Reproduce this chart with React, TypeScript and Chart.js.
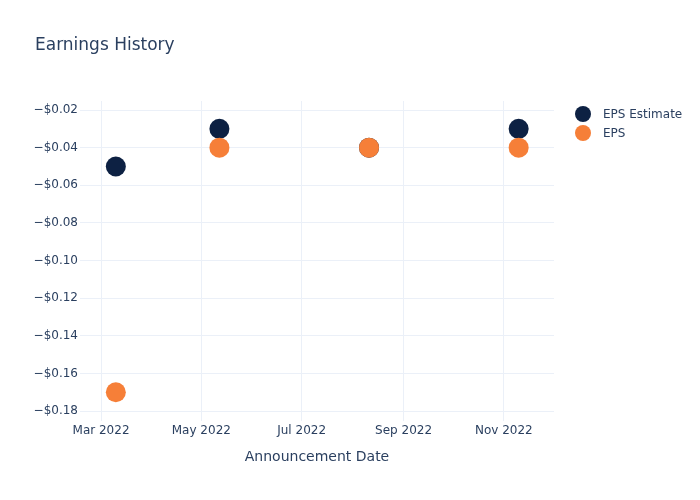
import React, { useEffect, useRef } from "react";
import { Chart, registerables } from "chart.js";

Chart.register(...registerables);

const announcementDates = ["2022-03-10", "2022-05-12", "2022-08-11", "2022-11-10"];
const epsEstimate = [-0.05, -0.03, -0.04, -0.03];
const epsActual = [-0.17, -0.04, -0.04, -0.04];
const xTickDates = ["2022-03-01", "2022-05-01", "2022-07-01", "2022-09-01", "2022-11-01"];
const xTickLabels = ["Mar 2022", "May 2022", "Jul 2022", "Sep 2022", "Nov 2022"];
const yTickValues = [-0.18, -0.16, -0.14, -0.12, -0.1, -0.08, -0.06, -0.04, -0.02];
const xRange = ["2022-02-16T05:00:00", "2022-12-01T12:00:00"];
const yRange = [-0.1853, -0.0152];

const seriesNames = ["EPS Estimate", "EPS"];
const seriesColors = ["#0d2143", "#f67f38"];

const ts = (s: string) => new Date(s + (s.length === 10 ? "T00:00:00Z" : "Z")).getTime();

const TEXT = "#2a3f5f";
const GRID = "#ebf0f8";
const FONT = "'DejaVu Sans', 'Open Sans', sans-serif";

export default function App() {
  const ref = useRef<HTMLCanvasElement>(null);

  useEffect(() => {
    document.body.style.margin = "0";
    const canvas = ref.current!;
    const overlay = {
      id: "overlay",
      afterDraw(chart: any) {
        const ctx = chart.ctx;
        ctx.save();
        ctx.fillStyle = TEXT;
        ctx.font = `17px ${FONT}`;
        ctx.textAlign = "left";
        ctx.textBaseline = "middle";
        ctx.fillText("Earnings History", 35, 46);
        ctx.font = `12px ${FONT}`;
        seriesNames.forEach((name, i) => {
          const y = 114 + i * 19;
          ctx.beginPath();
          ctx.arc(583, y, 8, 0, Math.PI * 2);
          ctx.fillStyle = seriesColors[i];
          ctx.fill();
          ctx.fillStyle = TEXT;
          ctx.fillText(name, 603, y + 1);
        });
        ctx.restore();
      },
    };

    const chart = new Chart(canvas, {
      type: "scatter",
      data: {
        datasets: [
          {
            label: seriesNames[0],
            data: announcementDates.map((d, i) => ({ x: ts(d), y: epsEstimate[i] })),
            backgroundColor: seriesColors[0],
            borderColor: seriesColors[0],
            pointRadius: 10,
            borderWidth: 0,
            order: 2,
          },
          {
            label: seriesNames[1],
            data: announcementDates.map((d, i) => ({ x: ts(d), y: epsActual[i] })),
            backgroundColor: seriesColors[1],
            borderColor: seriesColors[1],
            pointRadius: 10,
            borderWidth: 0,
            order: 1,
          },
        ],
      },
      options: {
        responsive: false,
        animation: false,
        events: [],
        layout: { padding: { left: 0, right: 146, top: 101, bottom: 0 } },
        plugins: { legend: { display: false }, title: { display: false }, tooltip: { enabled: false } },
        scales: {
          x: {
            type: "linear",
            min: ts(xRange[0]),
            max: ts(xRange[1]),
            grid: { color: GRID, drawTicks: false },
            border: { display: false },
            afterBuildTicks: (scale: any) => {
              scale.ticks = xTickDates.map((d) => ({ value: ts(d) }));
            },
            ticks: {
              color: TEXT,
              font: { family: FONT, size: 12 },
              padding: 3,
              maxRotation: 0,
              autoSkip: false,
              callback: (v: any) => {
                const idx = xTickDates.findIndex((d) => ts(d) === v);
                return idx >= 0 ? xTickLabels[idx] : "";
              },
            },
            title: {
              display: true,
              text: "Announcement Date",
              color: TEXT,
              font: { family: FONT, size: 14 },
              padding: { top: 0, bottom: 34 },
            },
            afterFit: (scale: any) => {
              scale.height = 79;
            },
          },
          y: {
            type: "linear",
            min: yRange[0],
            max: yRange[1],
            grid: { color: GRID, drawTicks: false },
            border: { display: false },
            afterBuildTicks: (scale: any) => {
              scale.ticks = yTickValues.map((v) => ({ value: v }));
            },
            ticks: {
              color: TEXT,
              font: { family: FONT, size: 12 },
              padding: 2,
              autoSkip: false,
              callback: (v: any) => "\u2212$" + Math.abs(Number(v)).toFixed(2),
            },
            afterFit: (scale: any) => {
              scale.width = 80;
            },
          },
        },
      },
      plugins: [overlay],
    } as any);
    return () => chart.destroy();
  }, []);

  return (
    <div style={{ position: "fixed", left: 0, top: 0, width: 700, height: 500, background: "#fff" }}>
      <canvas ref={ref} width={700} height={500} style={{ width: 700, height: 500 }} />
    </div>
  );
}
